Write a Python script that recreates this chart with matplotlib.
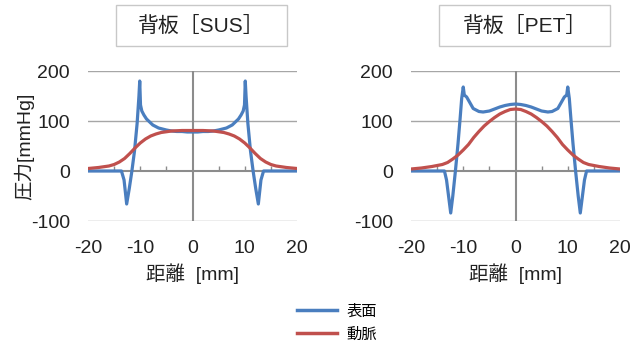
import numpy as np
import matplotlib.pyplot as plt
from matplotlib.patches import Rectangle

plt.rcParams['font.family'] = ['Liberation Sans', 'Noto Sans CJK JP', 'DejaVu Sans']
plt.rcParams['axes.unicode_minus'] = False

# 背板 SUS : 表面 (blue), 動脈 (red)
sus_x = [-20, -14, -13.6, -13.1, -12.6, -12.1, -11.6, -11.1, -10.6, -10.25, -10.1, -9.95, -9.7,
         -9.3, -8.8, -7.6, -6.5, -5, -4, -3, -2, -1, 0,
         1, 2, 3, 4, 5, 6.5, 7.6, 8.8, 9.3, 9.7, 9.95, 10.1, 10.25, 10.6, 11.1, 11.6, 12.1, 12.6,
         13.1, 13.6, 14, 20]
sus_surface = [0, 0, 0, -18, -66, -35, 0, 40, 95, 150, 180, 132, 120,
               112, 104, 92, 86, 82, 80, 79, 79, 78, 78,
               78, 79, 79, 80, 82, 86, 92, 104, 112, 120, 132, 180, 150, 95, 40, 0, -35, -66,
               -18, 0, 0, 0]
sus_art_x = [-20, -18, -16, -15, -14, -13, -12, -11, -10, -9, -8, -7, -6, -5, -4, -2, 0,
             2, 4, 5, 6, 7, 8, 9, 10, 11, 12, 13, 14, 15, 16, 18, 20]
sus_artery = [5, 7, 10, 13, 18, 25, 35, 46, 56, 64, 70, 74, 77, 78.5, 80, 81, 81,
              81, 80, 78.5, 77, 74, 70, 64, 56, 46, 35, 25, 18, 13, 10, 7, 5]

# 背板 PET
pet_x = [-20, -14, -13.6, -13.2, -12.4, -12.0, -11.5, -11.0, -10.6, -10.3, -10.0, -9.8, -9.35,
         -8.1, -7, -6.2, -5, -4, -3, -2, -1, 0,
         1, 2, 3, 4, 5, 6.2, 7, 8.1, 9.35, 9.8, 10.0, 10.3, 10.6, 11.0, 11.5, 12.0, 12.4,
         13.2, 13.6, 14, 20]
pet_surface = [0, 0, 0, -18, -84, -50, 0, 55, 105, 145, 168, 152, 148,
               125, 119, 118, 120, 124, 128, 131, 133, 134,
               133, 131, 128, 124, 120, 118, 119, 125, 148, 152, 168, 145, 105, 55, 0, -50, -84,
               -18, 0, 0, 0]
pet_art_x = [-20, -18, -16, -14, -13, -12, -11, -10, -9, -8, -7, -6, -5, -4, -3, -2, -1, 0,
             1, 2, 3, 4, 5, 6, 7, 8, 9, 10, 11, 12, 13, 14, 16, 18, 20]
pet_artery = [4, 6, 9, 13, 17, 24, 32, 42, 53, 67, 79, 90, 99, 107, 114, 119, 123, 124,
              123, 119, 114, 107, 99, 90, 79, 67, 53, 42, 32, 24, 17, 13, 9, 6, 4]

blue = '#4a7ebf'
red = '#c0504d'
txt = '#222222'
W, H = 641, 349

fig = plt.figure(figsize=(W / 100, H / 100), dpi=100)

panels = [
    (88, '背板［SUS］', 116, sus_x, sus_surface, sus_art_x, sus_artery, True),
    (411, '背板［PET］', 439, pet_x, pet_surface, pet_art_x, pet_artery, False),
]

for left, title, box_x, sx, sy, ax_, ay, first in panels:
    ax = fig.add_axes([left / W, (H - 221) / H, 209 / W, 150 / H])
    ax.set_xlim(-20, 20)
    ax.set_ylim(-100, 200)
    for s in ax.spines.values():
        s.set_visible(False)
    for yv in [200, 100, -100]:
        ax.axhline(yv, color='#a6a6a6', lw=1.0, zorder=1)
    ax.axhline(0, color='#8c8c8c', lw=1.5, zorder=1)
    ax.axvline(0, color='#8c8c8c', lw=1.5, zorder=1)
    ax.vlines([-15, -10, -5, 5, 10, 15], 0, 10, color='#8c8c8c', lw=1.0, zorder=1)

    ax.plot(sx, sy, color=blue, lw=2.3, zorder=3, solid_joinstyle='round')
    ax.plot(ax_, ay, color=red, lw=2.3, zorder=4)

    ax.set_xticks([-20, -10, 0, 10, 20])
    ax.set_yticks([-100, 0, 100, 200])
    ax.tick_params(length=0, labelsize=14, colors=txt)
    ax.tick_params(axis='x', pad=14)
    ax.tick_params(axis='y', pad=13)
    ax.set_xlabel('距離  [mm]', fontsize=14, color=txt, labelpad=4)
    if first:
        ax.set_ylabel('圧力[mmHg]', fontsize=14, color=txt)
        ax.yaxis.set_label_coords(-0.255, 0.5)

    # title box
    fig.patches.append(Rectangle((box_x / W, (H - 46) / H), 171 / W, 41 / H,
                                 transform=fig.transFigure, facecolor='white',
                                 edgecolor='#c8c8c8', lw=1.0))
    fig.text((box_x + 85.5) / W, (H - 26) / H, title, ha='center', va='center',
             fontsize=15, color=txt)

fig.legend(handles=[plt.Line2D([], [], color=blue, lw=2.5),
                    plt.Line2D([], [], color=red, lw=2.5)],
           labels=['表面', '動脈'], loc='center', bbox_to_anchor=(337 / W, (H - 323) / H),
           frameon=False, fontsize=11, handlelength=2.6, labelspacing=0.55,
           handletextpad=0.6)

fig.savefig('out.png', dpi=100)
